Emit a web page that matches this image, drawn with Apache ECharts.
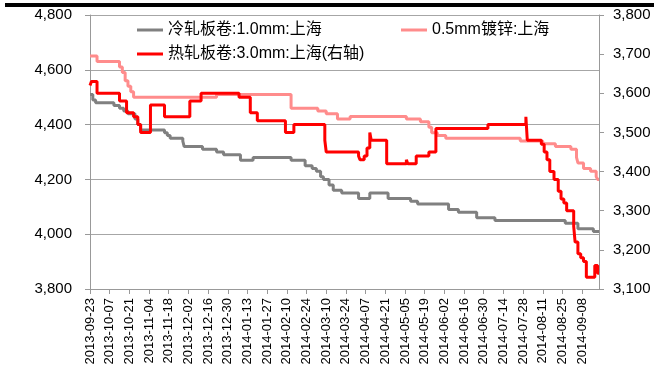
<!DOCTYPE html>
<html>
<head>
<meta charset="utf-8">
<script src="https://cdn.jsdelivr.net/npm/echarts@6/dist/echarts.min.js"></script>
<style>
  html, body { margin: 0; padding: 0; background: #fff; }
  #chart { width: 654px; height: 382px; }
</style>
</head>
<body>
<div id="chart"></div>
<script>
// Shanghai steel prices (yuan/ton), daily, 2013-09-23 .. 2014-09-20.
// Each series is a list of [date, price] change points; the price holds until the next point.
const START_DATE = '2013-09-23';
const END_DATE = '2014-09-20';

const xTickLabels = [
  '2013-09-23', '2013-10-07', '2013-10-21', '2013-11-04', '2013-11-18', '2013-12-02',
  '2013-12-16', '2013-12-30', '2014-01-13', '2014-01-27', '2014-02-10', '2014-02-24',
  '2014-03-10', '2014-03-24', '2014-04-07', '2014-04-21', '2014-05-05', '2014-05-19',
  '2014-06-02', '2014-06-16', '2014-06-30', '2014-07-14', '2014-07-28', '2014-08-11',
  '2014-08-25', '2014-09-08'
];

const leftTicks = [3800, 4000, 4200, 4400, 4600, 4800];
const rightTicks = [3100, 3200, 3300, 3400, 3500, 3600, 3700, 3800];

const seriesNames = ['冷轧板卷:1.0mm:上海', '0.5mm镀锌:上海', '热轧板卷:3.0mm:上海(右轴)'];

// 冷轧板卷 1.0mm, left axis
const coldRolled = [
  ['2013-09-23', 4510], ['2013-09-25', 4490], ['2013-09-27', 4480], ['2013-10-10', 4470],
  ['2013-10-14', 4460], ['2013-10-17', 4450], ['2013-10-20', 4440], ['2013-10-25', 4420],
  ['2013-10-27', 4400], ['2013-10-29', 4380], ['2013-11-15', 4370], ['2013-11-17', 4360],
  ['2013-11-19', 4350], ['2013-11-28', 4340], ['2013-11-29', 4320], ['2013-12-12', 4310],
  ['2013-12-22', 4300], ['2013-12-27', 4290], ['2014-01-08', 4270], ['2014-01-17', 4280],
  ['2014-02-13', 4270], ['2014-02-23', 4250], ['2014-02-28', 4240], ['2014-03-03', 4230],
  ['2014-03-06', 4210], ['2014-03-08', 4200], ['2014-03-12', 4180], ['2014-03-15', 4160],
  ['2014-03-21', 4150], ['2014-04-02', 4130], ['2014-04-10', 4150], ['2014-04-23', 4130],
  ['2014-05-09', 4120], ['2014-05-14', 4110], ['2014-06-05', 4090], ['2014-06-12', 4080],
  ['2014-06-25', 4060], ['2014-07-08', 4050], ['2014-08-27', 4040], ['2014-09-05', 4020],
  ['2014-09-16', 4010], ['2014-09-20', 4010]
];

// 0.5mm 镀锌, left axis
const galvanized = [
  ['2013-09-23', 4650], ['2013-09-28', 4630], ['2013-10-14', 4610], ['2013-10-16', 4590],
  ['2013-10-18', 4560], ['2013-10-20', 4540], ['2013-10-22', 4520], ['2013-10-24', 4500],
  ['2013-12-22', 4510], ['2014-02-13', 4460], ['2014-03-04', 4450], ['2014-03-10', 4440],
  ['2014-03-18', 4420], ['2014-03-27', 4430], ['2014-05-06', 4420], ['2014-05-16', 4410],
  ['2014-05-22', 4390], ['2014-05-24', 4370], ['2014-05-28', 4360], ['2014-06-03', 4350],
  ['2014-07-26', 4340], ['2014-08-11', 4330], ['2014-08-20', 4320], ['2014-08-31', 4310],
  ['2014-09-04', 4280], ['2014-09-05', 4260], ['2014-09-09', 4240], ['2014-09-14', 4230],
  ['2014-09-18', 4210], ['2014-09-19', 4200], ['2014-09-20', 4200]
];

// 热轧板卷 3.0mm, right axis
const hotRolled = [
  ['2013-09-23', 3620], ['2013-09-24', 3630], ['2013-09-28', 3600], ['2013-10-14', 3580],
  ['2013-10-19', 3550], ['2013-10-24', 3540], ['2013-10-27', 3520], ['2013-10-29', 3500],
  ['2013-11-05', 3570], ['2013-11-15', 3540], ['2013-12-03', 3580], ['2013-12-11', 3600],
  ['2014-01-07', 3590], ['2014-01-15', 3550], ['2014-01-20', 3530], ['2014-02-09', 3500],
  ['2014-02-15', 3520], ['2014-03-09', 3480], ['2014-03-10', 3450], ['2014-04-02', 3440],
  ['2014-04-03', 3430], ['2014-04-06', 3440], ['2014-04-08', 3460], ['2014-04-10', 3500],
  ['2014-04-11', 3480], ['2014-04-22', 3420], ['2014-05-06', 3430], ['2014-05-07', 3420],
  ['2014-05-13', 3440], ['2014-05-22', 3450], ['2014-05-27', 3510], ['2014-07-03', 3520],
  ['2014-07-30', 3540], ['2014-07-31', 3480], ['2014-08-10', 3470], ['2014-08-12', 3450],
  ['2014-08-14', 3430], ['2014-08-16', 3400], ['2014-08-19', 3380], ['2014-08-22', 3350],
  ['2014-08-24', 3330], ['2014-08-26', 3320], ['2014-08-28', 3300], ['2014-09-02', 3260],
  ['2014-09-03', 3220], ['2014-09-05', 3190], ['2014-09-07', 3180], ['2014-09-09', 3170],
  ['2014-09-11', 3130], ['2014-09-17', 3160], ['2014-09-19', 3140], ['2014-09-20', 3140]
];

const DAY_MS = 86400000;
const dayOf = s => Math.round((Date.parse(s) - Date.parse(START_DATE)) / DAY_MS);
const toXY = rows => rows.map(([d, v]) => [dayOf(d), v]);
const TICK_DAYS = 14;

const FONT = '"Liberation Sans", Arial, "Noto Sans CJK SC", sans-serif';
const thousands = v => Number(v).toLocaleString('en-US');

const chart = echarts.init(document.getElementById('chart'), null, { renderer: 'canvas' });

const legendBase = {
  orient: 'horizontal',
  padding: 0,
  itemWidth: 26,
  itemHeight: 3,
  icon: 'rect',
  textStyle: { fontFamily: FONT, fontSize: 16, color: '#000' },
  selectedMode: false
};

chart.setOption({
  animation: false,
  backgroundColor: '#fff',
  graphic: [{
    type: 'rect',
    shape: { x: 5, y: 3, width: 649, height: 4 },
    style: { fill: '#000' },
    silent: true
  }],
  grid: { left: 90, right: 55, top: 15, bottom: 93, containLabel: false },
  legend: [
    Object.assign({}, legendBase, { data: [seriesNames[0]], left: 137, top: 22 }),
    Object.assign({}, legendBase, { data: [seriesNames[1]], left: 401, top: 22 }),
    Object.assign({}, legendBase, { data: [seriesNames[2]], left: 137, top: 46 })
  ],
  xAxis: {
    type: 'value',
    min: 0,
    max: dayOf(END_DATE),
    interval: TICK_DAYS,
    axisLine: { show: true, lineStyle: { color: '#999', width: 1 } },
    axisTick: { show: true, length: 5, inside: false, lineStyle: { color: '#999' } },
    splitLine: { show: false },
    axisLabel: {
      rotate: 90,
      margin: 9,
      fontFamily: FONT,
      fontSize: 13,
      color: '#000',
      showMaxLabel: false,
      formatter: v => (v % TICK_DAYS === 0 && xTickLabels[v / TICK_DAYS]) || ''
    }
  },
  yAxis: [
    {
      type: 'value',
      position: 'left',
      min: leftTicks[0],
      max: leftTicks[leftTicks.length - 1],
      interval: leftTicks[1] - leftTicks[0],
      axisLine: { show: true, lineStyle: { color: '#999', width: 1 } },
      axisTick: { show: true, length: 5, inside: false, lineStyle: { color: '#999' } },
      splitLine: { show: true, lineStyle: { color: '#a6a6a6', width: 1 } },
      axisLabel: { margin: 18, fontFamily: FONT, fontSize: 15, color: '#000', formatter: thousands }
    },
    {
      type: 'value',
      position: 'right',
      min: rightTicks[0],
      max: rightTicks[rightTicks.length - 1],
      interval: rightTicks[1] - rightTicks[0],
      axisLine: { show: true, lineStyle: { color: '#999', width: 1 } },
      axisTick: { show: true, length: 5, inside: false, lineStyle: { color: '#999' } },
      splitLine: { show: false },
      axisLabel: { margin: 14, fontFamily: FONT, fontSize: 15, color: '#000', formatter: thousands }
    }
  ],
  series: [
    {
      name: seriesNames[0],
      type: 'line',
      yAxisIndex: 0,
      step: 'end',
      symbol: 'none',
      color: '#808080',
      lineStyle: { color: '#808080', width: 3 },
      data: toXY(coldRolled),
      z: 2
    },
    {
      name: seriesNames[1],
      type: 'line',
      yAxisIndex: 0,
      step: 'end',
      symbol: 'none',
      color: '#FF8C8C',
      lineStyle: { color: '#FF8C8C', width: 3 },
      data: toXY(galvanized),
      z: 3
    },
    {
      name: seriesNames[2],
      type: 'line',
      yAxisIndex: 1,
      step: 'end',
      symbol: 'none',
      color: '#FF0000',
      lineStyle: { color: '#FF0000', width: 3 },
      data: toXY(hotRolled),
      z: 4
    }
  ]
});
</script>
</body>
</html>
